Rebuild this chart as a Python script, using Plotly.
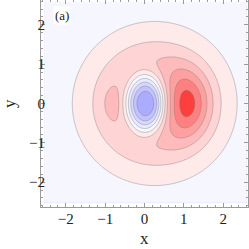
import numpy as np
import plotly.graph_objects as go

# ---- model components ----
# broad ring: amplitude, centre x, width
ring_amp, ring_x, ring_w = 6.0, 0.25, 1.02
# strong positive lobe on the right: amplitude, centre x, width x, width y
peak_amp, peak_x, peak_sx, peak_sy = 3.85, 1.00, 0.60, 0.80
# weak positive lobe on the left
lobe_amp, lobe_x, lobe_sx, lobe_sy = 0.8, -0.82, 0.20, 0.35
# negative centre: flattened well (amplitude, centre, widths, flatness power)
well_amp, well_x, well_sx, well_sy, well_pow = 5.0, 0.0, 0.45, 0.72, 1.5

# contour levels and band colours (lowest band first)
level_start, level_end, level_step = -3.6, 5.4, 1.0
band_colors = ["#ABACFF", "#C1C2FF", "#D6D7FF", "#EAEBFF", "#F5F6FF",
               "#FFEAEA", "#FFD4D4", "#FFBBBB", "#FFA0A0", "#FF8080", "#FF3E3E"]

tick_vals = [-2, -1, 0, 1, 2]
tick_text = ["\u22122", "\u22121", "0", "1", "2"]

xs = np.linspace(-2.55, 2.6, 330)
ys = np.linspace(-2.52, 2.58, 330)
X, Y = np.meshgrid(xs, ys)

d2 = (X - ring_x) ** 2 + Y ** 2
q2 = ((X - well_x) / well_sx) ** 2 + (Y / well_sy) ** 2
Z = (ring_amp * d2 * np.exp(-d2 / ring_w ** 2)
     + peak_amp * np.exp(-((X - peak_x) / peak_sx) ** 2 - (Y / peak_sy) ** 2)
     + lobe_amp * np.exp(-((X - lobe_x) / lobe_sx) ** 2 - (Y / lobe_sy) ** 2)
     - well_amp * np.exp(-q2 ** well_pow))

n = len(band_colors) - 1
colorscale = [[i / n, c] for i, c in enumerate(band_colors)]

fig = go.Figure(go.Contour(
    x=xs, y=ys, z=Z,
    autocontour=False,
    contours=dict(start=level_start, end=level_end, size=level_step,
                  coloring="fill", showlines=True),
    colorscale=colorscale,
    line=dict(color="rgba(120,120,120,0.5)", width=0.8, smoothing=1),
    showscale=False,
    hoverinfo="skip",
))

font_family = "Liberation Serif, Times New Roman, serif"
axis_common = dict(
    showline=True, linecolor="#9a9a9a", linewidth=1, mirror="ticks",
    ticks="inside", ticklen=4, tickcolor="#9a9a9a", tickwidth=1,
    showgrid=False, zeroline=False, automargin=False,
    range=[-2.63, 2.63],
    tickvals=tick_vals, ticktext=tick_text,
    tickfont=dict(family=font_family, size=15, color="#222"),
    minor=dict(dtick=0.2, ticks="inside", ticklen=2, tickcolor="#9a9a9a", showgrid=False),
)

L, T, W, H = 41, 0, 207, 207
fig.update_layout(
    width=249, height=249,
    margin=dict(l=L, r=249 - L - W, t=T, b=249 - T - H),
    paper_bgcolor="white", plot_bgcolor="white",
    xaxis=dict(axis_common, ticklabelstandoff=-2),
    yaxis=dict(axis_common, ticklabelstandoff=-8),
    showlegend=False,
    annotations=[
        dict(x=-2.09, y=2.23, xref="x", yref="y", text="(a)", showarrow=False,
             font=dict(family=font_family, size=13, color="#222"),
             bgcolor="white", borderpad=1),
        dict(x=(144.5 - L) / W, y=(T + H - 238) / H, xref="paper", yref="paper", text="x",
             showarrow=False, xanchor="center", yanchor="middle",
             font=dict(family=font_family, size=17, color="#222")),
        dict(x=(9 - L) / W, y=(T + H - 104) / H, xref="paper", yref="paper", text="y",
             showarrow=False, xanchor="center", yanchor="middle", textangle=-90,
             font=dict(family=font_family, size=17, color="#222")),
    ],
)

fig.write_html("out.html", config={"displayModeBar": False},
               post_script="document.body.style.margin='0';document.body.style.padding='0';")
